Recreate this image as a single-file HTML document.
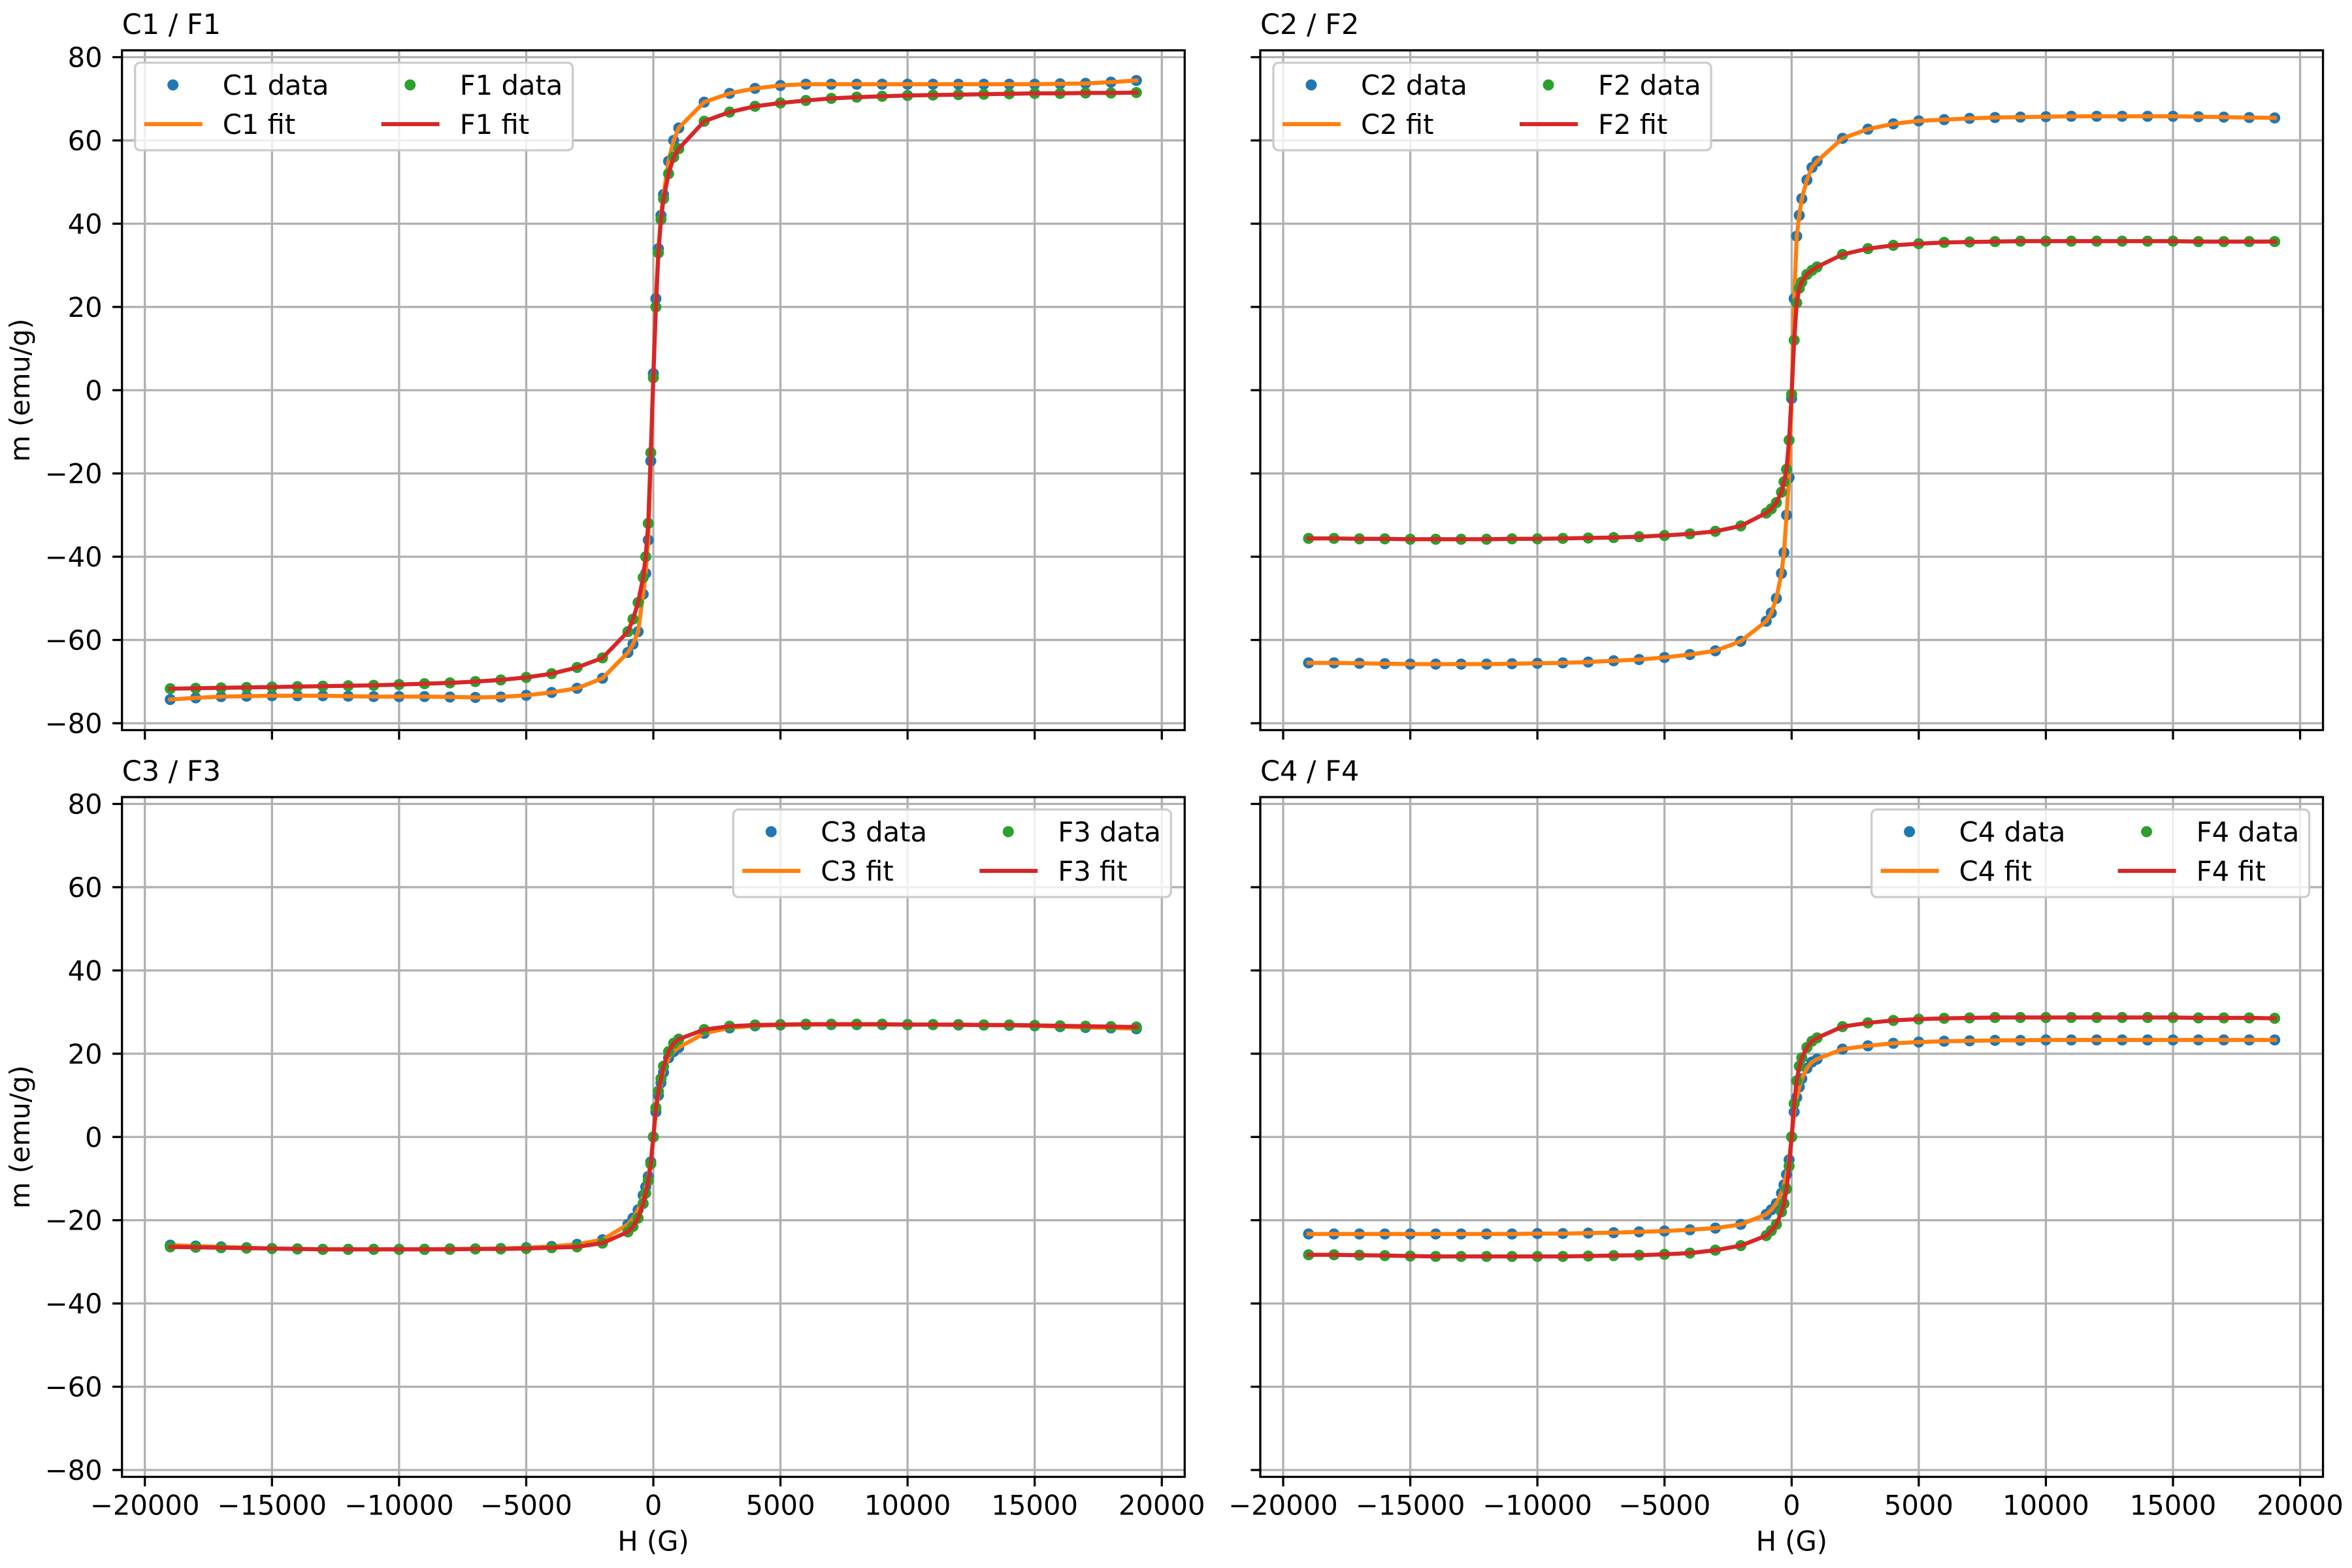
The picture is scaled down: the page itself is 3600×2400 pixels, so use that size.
<!DOCTYPE html>
<html><head><meta charset="utf-8"><style>
html,body{margin:0;padding:0;background:#fff;}
svg{display:block;font-family:"DejaVu Sans","Liberation Sans",sans-serif;}
</style></head><body>
<svg id="fig" xmlns="http://www.w3.org/2000/svg" width="3600" height="2400" viewBox="0 0 3600 2400"></svg>
<script>
// ---- data ----
const H = [-19000,-18000,-17000,-16000,-15000,-14000,-13000,-12000,-11000,-10000,-9000,-8000,-7000,-6000,-5000,-4000,-3000,-2000,
  -1000,-800,-600,-400,-300,-200,-100,0,100,200,300,400,600,800,1000,
  2000,3000,4000,5000,6000,7000,8000,9000,10000,11000,12000,13000,14000,15000,16000,17000,18000,19000];
const C1 = [-74.3,-73.9,-73.6,-73.5,-73.4,-73.4,-73.4,-73.5,-73.6,-73.6,-73.6,-73.7,-73.8,-73.7,-73.3,-72.6,-71.6,-69.2,
  -63,-61,-58,-49,-44,-36,-17,4,22,34,42,47,55,60,63,
  69.2,71.3,72.5,73.2,73.5,73.5,73.5,73.5,73.5,73.5,73.5,73.5,73.5,73.5,73.6,73.7,74.0,74.4];
const F1 = [-71.7,-71.6,-71.5,-71.4,-71.3,-71.2,-71.1,-71.0,-70.9,-70.7,-70.5,-70.3,-70.0,-69.6,-69.0,-68.1,-66.6,-64.3,
  -58,-55,-51,-45,-40,-32,-15,3,20,33,41,46,52,56,58,
  64.6,66.8,68.2,69.0,69.6,70.1,70.4,70.6,70.8,70.9,71.0,71.1,71.2,71.3,71.3,71.4,71.4,71.5];
const C2 = [-65.5,-65.5,-65.6,-65.7,-65.8,-65.8,-65.8,-65.8,-65.7,-65.6,-65.5,-65.3,-65.0,-64.7,-64.2,-63.5,-62.6,-60.3,
  -55.5,-53.5,-50,-44,-39,-30,-21,-2,22,37,42,46,50.5,53.5,55,
  60.5,62.7,64,64.7,65,65.3,65.5,65.6,65.7,65.8,65.8,65.8,65.8,65.8,65.7,65.6,65.5,65.4];
const F2 = [-35.6,-35.6,-35.7,-35.7,-35.8,-35.8,-35.8,-35.8,-35.7,-35.7,-35.6,-35.5,-35.4,-35.2,-34.9,-34.5,-33.9,-32.6,
  -29.5,-28.5,-27,-24.5,-22,-19,-12,-1,12,21,24.5,26,27.8,28.8,29.6,
  32.6,34,34.8,35.2,35.5,35.6,35.7,35.8,35.8,35.8,35.8,35.8,35.8,35.8,35.7,35.7,35.7,35.7];
const C3 = [-26.0,-26.2,-26.4,-26.6,-26.8,-26.9,-27.0,-27.0,-27.0,-27.0,-27.0,-26.9,-26.9,-26.8,-26.6,-26.3,-25.8,-24.7,
  -21,-19.5,-17.5,-14,-12,-9.5,-6,0,6,10,13,15.5,19,20.5,21.5,
  24.9,26.2,26.7,26.9,27,27,27,27,27,27,26.9,26.9,26.8,26.7,26.5,26.3,26.2,26.0];
const F3 = [-26.4,-26.5,-26.6,-26.7,-26.8,-26.9,-27,-27,-27,-27,-27,-27,-26.9,-26.9,-26.8,-26.6,-26.4,-25.5,
  -22.8,-21.5,-19.5,-16,-13.5,-10.5,-6.5,0,7,11,14,17,20.5,22.5,23.5,
  25.8,26.6,26.9,27,27.1,27.1,27.1,27.1,27,27,27,26.9,26.9,26.8,26.7,26.6,26.5,26.4];
const C4 = [-23.3,-23.3,-23.3,-23.3,-23.3,-23.3,-23.3,-23.3,-23.3,-23.2,-23.2,-23.1,-23.0,-22.8,-22.6,-22.3,-21.9,-21.0,
  -18.6,-17.5,-16,-13.5,-11.5,-9,-5.5,0,6,9.5,12,14,16.5,18,18.7,
  21.1,21.9,22.5,22.8,23.0,23.1,23.2,23.2,23.3,23.3,23.3,23.3,23.3,23.3,23.3,23.3,23.3,23.3];
const F4 = [-28.3,-28.3,-28.4,-28.5,-28.6,-28.7,-28.7,-28.7,-28.7,-28.7,-28.7,-28.6,-28.5,-28.4,-28.2,-27.9,-27.2,-26.1,
  -23.7,-22.5,-21,-18,-16,-12.5,-7,0,8,13.5,17,19,21.5,23,23.8,
  26.5,27.4,28.0,28.3,28.5,28.6,28.7,28.7,28.7,28.7,28.7,28.7,28.7,28.7,28.6,28.6,28.6,28.5];
const xTicks = [-20000,-15000,-10000,-5000,0,5000,10000,15000,20000];
const yTicks = [-80,-60,-40,-20,0,20,40,60,80];
const panelTitles = ["C1 / F1","C2 / F2","C3 / F3","C4 / F4"];
const seriesC = [C1,C2,C3,C4];
const seriesF = [F1,F2,F3,F4];
const cNames = ["C1","C2","C3","C4"];
const fNames = ["F1","F2","F3","F4"];

// ---- layout ----
const NS = "http://www.w3.org/2000/svg";
const svg = document.getElementById('fig');
const XMIN=-20900, XMAX=20900, YMIN=-81.65, YMAX=81.65;
const W=1626.6, HT=1040.5;
const panels=[{l:186.7,t:77,lx:false,ly:true,leg:'left'},{l:1929,t:77,lx:false,ly:false,leg:'left'},
  {l:186.7,t:1220,lx:true,ly:true,leg:'right'},{l:1929,t:1220,lx:true,ly:false,leg:'right'}];
const BLUE='#1f77b4',ORANGE='#ff7f0e',GREEN='#2ca02c',RED='#d62728';
function mk(tag,attrs,parent){const e=document.createElementNS(NS,tag);for(const k in attrs)e.setAttribute(k,attrs[k]);(parent||svg).appendChild(e);return e;}

panels.forEach((p,i)=>{
  const sx=v=>p.l+(v-XMIN)/(XMAX-XMIN)*W;
  const sy=v=>p.t+(YMAX-v)/(YMAX-YMIN)*HT;
  const g=mk('g',{});
  
  
  const clipId='clip'+i;
  const cp=mk('clipPath',{id:clipId},g);
  mk('rect',{x:p.l,y:p.t,width:W,height:HT},cp);
  xTicks.forEach(t=>{const ln=mk('line',{x1:sx(t),x2:sx(t),y1:p.t,y2:p.t+HT,stroke:'#b0b0b0','stroke-width':3.3,'clip-path':'url(#'+clipId+')'},g);
    });
  yTicks.forEach(t=>{const ln=mk('line',{x1:p.l,x2:p.l+W,y1:sy(t),y2:sy(t),stroke:'#b0b0b0','stroke-width':3.3},g);
    });
  const pts=arr=>H.map((h,k)=>sx(h).toFixed(1)+','+sy(arr[k]).toFixed(1)).join(' ');
  const cg=mk('g',{'clip-path':'url(#'+clipId+')'},g);
  const drawDots=(arr,col,name)=>{const dg=mk('g',{fill:col},cg);
    
    H.forEach((h,k)=>{const c=mk('circle',{cx:sx(h),cy:sy(arr[k]),r:8.5},dg);
      });};
  const drawLine=(arr,col,name)=>{const pl=mk('polyline',{points:pts(arr),fill:'none',stroke:col,'stroke-width':6.25,'stroke-linejoin':'round','stroke-linecap':'square'},cg);
    };
  drawDots(seriesC[i],BLUE,cNames[i].toLowerCase()+'-data');
  drawLine(seriesC[i],ORANGE,cNames[i].toLowerCase()+'-fit');
  drawDots(seriesF[i],GREEN,fNames[i].toLowerCase()+'-data');
  drawLine(seriesF[i],RED,fNames[i].toLowerCase()+'-fit');
  const fr=mk('rect',{x:p.l,y:p.t,width:W,height:HT,fill:'none',stroke:'#000','stroke-width':3.3},g);
  
  xTicks.forEach(t=>{const tk=mk('line',{x1:sx(t),x2:sx(t),y1:p.t+HT,y2:p.t+HT+14.6,stroke:'#000','stroke-width':3.3},g);
    
    if(p.lx){const tx=mk('text',{x:sx(t),y:p.t+HT+58,'text-anchor':'middle','font-size':41.7,fill:'#000'},g);
      tx.textContent=(t<0?'\u2212':'')+Math.abs(t);
      }});
  yTicks.forEach(t=>{const tk=mk('line',{x1:p.l-14.6,x2:p.l,y1:sy(t),y2:sy(t),stroke:'#000','stroke-width':3.3},g);
    
    if(p.ly){const tx=mk('text',{x:p.l-30,y:sy(t)+15,'text-anchor':'end','font-size':41.7,fill:'#000'},g);
      tx.textContent=(t<0?'\u2212':'')+Math.abs(t);
      }});
  const ti=mk('text',{x:p.l,y:p.t-25,'font-size':43,fill:'#000'},g);
  ti.textContent=panelTitles[i];
  
  if(p.lx){const xl=mk('text',{x:p.l+W/2,y:p.t+HT+113,'text-anchor':'middle','font-size':41.7,fill:'#000'},g);
    xl.textContent='H (G)';}
  if(p.ly){const yl=mk('text',{x:0,y:0,'text-anchor':'middle','font-size':41.7,fill:'#000',transform:'translate(45,'+(p.t+HT/2)+') rotate(-90)'},g);
    yl.textContent='m (emu/g)';}
  const bw=670,bh=134;
  const bx=p.leg==='left'?p.l+20:p.l+W-21-bw, by=p.t+19;
  const lg=mk('g',{},g);
  
  mk('rect',{x:bx,y:by,width:bw,height:bh,rx:8,fill:'#fff','fill-opacity':0.8,stroke:'#cccccc','stroke-width':3.3},lg);
  const entries=[[0,0,'dot',BLUE,cNames[i]+' data'],[0,1,'line',ORANGE,cNames[i]+' fit'],[1,0,'dot',GREEN,fNames[i]+' data'],[1,1,'line',RED,fNames[i]+' fit']];
  entries.forEach(e=>{const ox=bx+e[0]*363, oy=by+34+e[1]*60;
    const eg=mk('g',{},lg);
    
    if(e[2]==='dot')mk('circle',{cx:ox+58,cy:oy,r:8.5,fill:e[3]},eg);
    else mk('line',{x1:ox+14,x2:ox+103,y1:oy,y2:oy,stroke:e[3],'stroke-width':6.25},eg);
    const t=mk('text',{x:ox+134,y:oy+15,'font-size':41.7,fill:'#000'},eg);t.textContent=e[4];});
});
</script>
</body></html>
